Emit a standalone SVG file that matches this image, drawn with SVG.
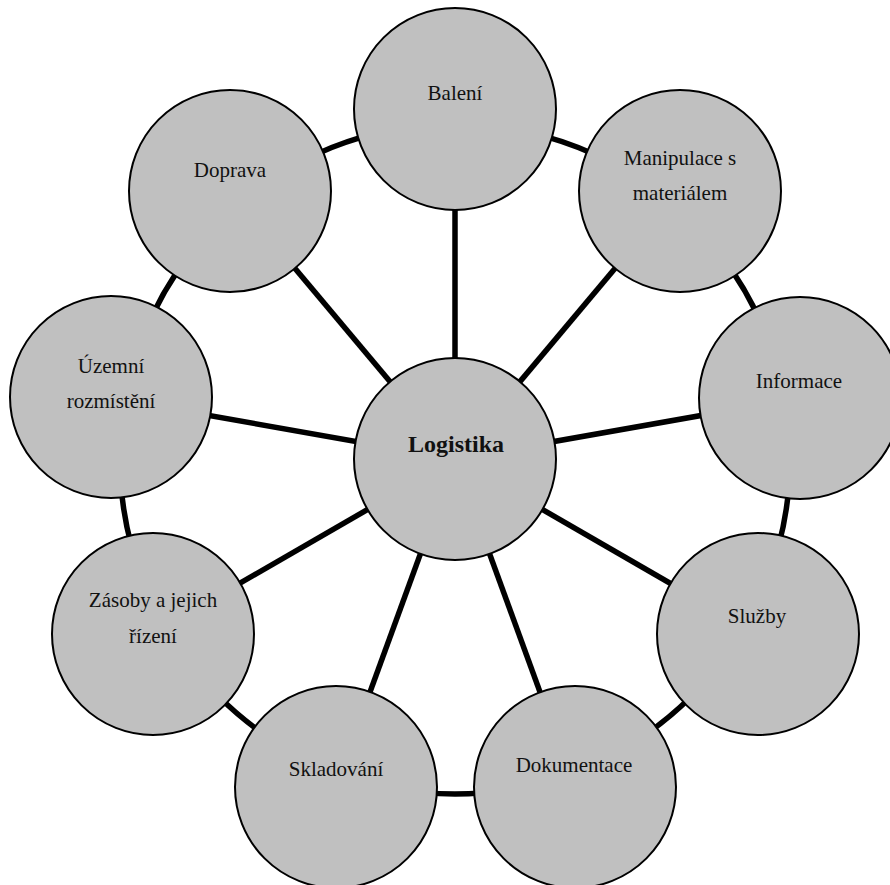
<svg xmlns="http://www.w3.org/2000/svg" width="890" height="885" viewBox="0 0 890 885">
<style>
.node{fill:#c0c0c0;stroke:#000;stroke-width:2}
.lbl{font-family:"Liberation Serif","Times New Roman",serif;font-size:21px;fill:#111;text-anchor:middle}
.main{font-weight:bold;font-size:24px}
.conn{stroke:#000;stroke-width:5.5;fill:none}
</style>
<rect width="890" height="885" fill="#fff"/>
<g id="connectors">
<circle class="conn" cx="455" cy="459" r="335"/>
<line class="conn" x1="455" y1="459" x2="455" y2="109"/>
<line class="conn" x1="455" y1="459" x2="680" y2="191"/>
<line class="conn" x1="455" y1="459" x2="800" y2="398"/>
<line class="conn" x1="455" y1="459" x2="758" y2="634"/>
<line class="conn" x1="455" y1="459" x2="575" y2="788"/>
<line class="conn" x1="455" y1="459" x2="335" y2="788"/>
<line class="conn" x1="455" y1="459" x2="152" y2="634"/>
<line class="conn" x1="455" y1="459" x2="110" y2="398"/>
<line class="conn" x1="455" y1="459" x2="230" y2="191"/>
</g>
<g id="balen"><circle class="node" cx="455" cy="109" r="101"/><text class="lbl" x="455" y="100">Balení</text></g>
<g id="manipulace"><circle class="node" cx="680" cy="191" r="101"/><text class="lbl" x="680" y="165">Manipulace s</text><text class="lbl" x="680" y="200">materiálem</text></g>
<g id="informace"><circle class="node" cx="800" cy="398" r="101"/><text class="lbl" x="799" y="388">Informace</text></g>
<g id="sluzby"><circle class="node" cx="758" cy="634" r="101"/><text class="lbl" x="757" y="623">Služby</text></g>
<g id="dokumentace"><circle class="node" cx="575" cy="787" r="101"/><text class="lbl" x="574" y="772">Dokumentace</text></g>
<g id="skladovani"><circle class="node" cx="336" cy="787" r="101"/><text class="lbl" x="336" y="776">Skladování</text></g>
<g id="zasoby"><circle class="node" cx="153" cy="634" r="101"/><text class="lbl" x="153" y="607">Zásoby a jejich</text><text class="lbl" x="153" y="643">řízení</text></g>
<g id="uzemni"><circle class="node" cx="111" cy="397" r="101"/><text class="lbl" x="111" y="373">Územní</text><text class="lbl" x="111" y="408">rozmístění</text></g>
<g id="doprava"><circle class="node" cx="230" cy="191" r="101"/><text class="lbl" x="230" y="177">Doprava</text></g>
<g id="logistika"><circle class="node" cx="455" cy="459" r="101"/><text class="lbl main" x="456" y="452">Logistika</text></g>
</svg>
